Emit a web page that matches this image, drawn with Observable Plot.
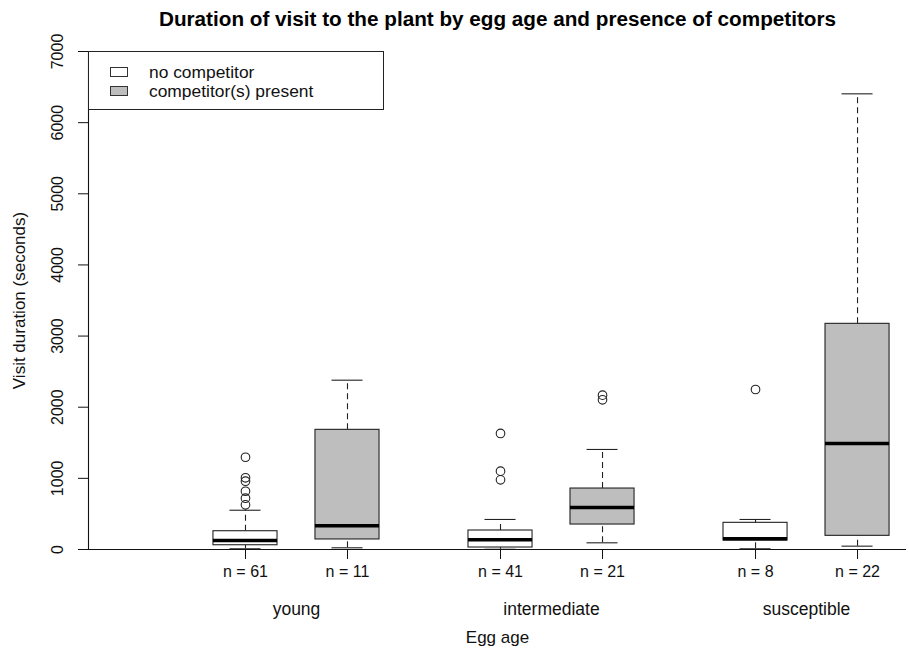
<!DOCTYPE html>
<html>
<head>
<meta charset="utf-8">
<script src="https://cdn.jsdelivr.net/npm/d3@7"></script>
<script src="https://cdn.jsdelivr.net/npm/@observablehq/plot@0.6"></script>
<style>
  html, body { margin: 0; padding: 0; background: white; }
  #wrap { position: relative; width: 909px; height: 649px; font-family: "Liberation Sans", Arial, Helvetica, sans-serif; }
  #legend { position: absolute; left: 88px; top: 51px; width: 294px; height: 57px; border: 1px solid #222; background: white; font-size: 17.4px; color: #111; }
  .row { position: absolute; left: 21px; height: 18px; display: flex; align-items: center; }
  .sw { width: 16px; height: 8px; border: 1px solid #333; margin-right: 21px; }
</style>
</head>
<body>
<div id="wrap"></div>
<script>
// ---- data ----
const groups = ["young", "intermediate", "susceptible"];
const series = ["no competitor", "competitor(s) present"];
const seriesFill = ["#ffffff", "#bebebe"];
const nCounts     = [61, 11, 41, 21, 8, 22];
const q1          = [60, 141, 28, 351, 126, 192];
const medians     = [126, 333, 136, 590, 150, 1490];
const q3          = [257, 1682, 267, 857, 375, 3172];
const whiskerLow  = [10, 24, 3, 94, 10, 47];
const whiskerHigh = [552, 2380, 422, 1406, 422, 6405];
const outliers    = [[1297, 1008, 960, 819, 721, 628], [], [1631, 1101, 979], [2169, 2104], [2249], []];
const yTicks = [0, 1000, 2000, 3000, 4000, 5000, 6000, 7000];

// ---- build table ----
const boxes = [];
groups.forEach((g, gi) => series.forEach((s, si) => {
  const i = gi * series.length + si;
  boxes.push({group: g, series: s, si, pos: 1 + 2.5 * gi + si, n: nCounts[i],
    q1: q1[i], med: medians[i], q3: q3[i], lo: whiskerLow[i], hi: whiskerHigh[i], out: outliers[i]});
}));
const pts = boxes.flatMap(b => b.out.map(v => ({pos: b.pos, v})));
const groupCenters = groups.map((g, gi) => ({group: g, pos: 1.5 + 2.5 * gi}));
const hw = 0.314, cw = 0.152;
const xDomain = [-0.539, 7.48];

const chart = Plot.plot({
  width: 909, height: 649,
  marginLeft: 88, marginRight: 3, marginTop: 51, marginBottom: 100,
  style: {fontFamily: '"Liberation Sans", Arial, Helvetica, sans-serif', fontSize: "16px", color: "#111", background: "white"},
  x: {domain: xDomain, label: null},
  y: {domain: [0, 7000], label: null},
  marks: [
    // whiskers
    Plot.ruleX(boxes, {x: "pos", y1: "q3", y2: "hi", stroke: "#222", strokeWidth: 1.1, strokeDasharray: "6,4"}),
    Plot.ruleX(boxes, {x: "pos", y1: "lo", y2: "q1", stroke: "#222", strokeWidth: 1.1, strokeDasharray: "6,4"}),
    Plot.ruleY(boxes, {y: "hi", x1: d => d.pos - cw, x2: d => d.pos + cw, stroke: "#222", strokeWidth: 1.1}),
    Plot.ruleY(boxes, {y: "lo", x1: d => d.pos - cw, x2: d => d.pos + cw, stroke: "#222", strokeWidth: 1.1}),
    // boxes
    Plot.rect(boxes, {x1: d => d.pos - hw, x2: d => d.pos + hw, y1: "q1", y2: "q3",
      fill: d => seriesFill[d.si], stroke: "#222", strokeWidth: 1.1}),
    Plot.ruleY(boxes, {y: "med", x1: d => d.pos - hw, x2: d => d.pos + hw, stroke: "#000", strokeWidth: 3.5}),
    // outliers
    Plot.dot(pts, {x: "pos", y: "v", r: 4.3, stroke: "#222", strokeWidth: 1.1, fill: "none"}),
    // axes lines
    Plot.ruleY([0], {stroke: "#111", strokeWidth: 1.1}),
    Plot.ruleX([xDomain[0]], {stroke: "#111", strokeWidth: 1.1}),
    Plot.axisX({ticks: boxes.map(b => b.pos), tickSize: 10, tickFormat: () => "", stroke: "#111", label: null}),
    Plot.axisY({ticks: yTicks, tickSize: 10, tickFormat: () => "", stroke: "#111", label: null}),
    Plot.text(yTicks, {y: d => d, text: d => String(d), frameAnchor: "left", rotate: -90, dx: -31,
      textAnchor: "middle", lineAnchor: "middle", fill: "#111"}),
    // n labels
    Plot.text(boxes, {x: "pos", text: d => `n = ${d.n}`, frameAnchor: "bottom", dy: 27, lineAnchor: "bottom", fill: "#111"}),
    // group labels
    Plot.text(groupCenters, {x: "pos", text: "group", frameAnchor: "bottom", dy: 65, lineAnchor: "bottom", fontSize: 17.5, fill: "#111"}),
    // axis titles
    Plot.text(["Egg age"], {frameAnchor: "bottom", dy: 93, lineAnchor: "bottom", fontSize: 17, fill: "#111"}),
    Plot.text(["Visit duration (seconds)"], {frameAnchor: "left", rotate: -90, dx: -69, lineAnchor: "middle", textAnchor: "middle", fontSize: 17, fill: "#111"}),
    Plot.text(["Duration of visit to the plant by egg age and presence of competitors"],
      {frameAnchor: "top", dy: -26, lineAnchor: "bottom", fontWeight: "bold", fontSize: 20.7, fill: "#000"})
  ]
});

const wrap = document.getElementById("wrap");
wrap.appendChild(chart);
const legend = document.createElement("div");
legend.id = "legend";
series.forEach((s, si) => {
  const row = document.createElement("div");
  row.className = "row";
  row.style.top = (11 + si * 19) + "px";
  const sw = document.createElement("div");
  sw.className = "sw";
  sw.style.background = seriesFill[si];
  const t = document.createElement("span");
  t.textContent = s;
  row.appendChild(sw); row.appendChild(t);
  legend.appendChild(row);
});
wrap.appendChild(legend);
</script>
</body>
</html>
